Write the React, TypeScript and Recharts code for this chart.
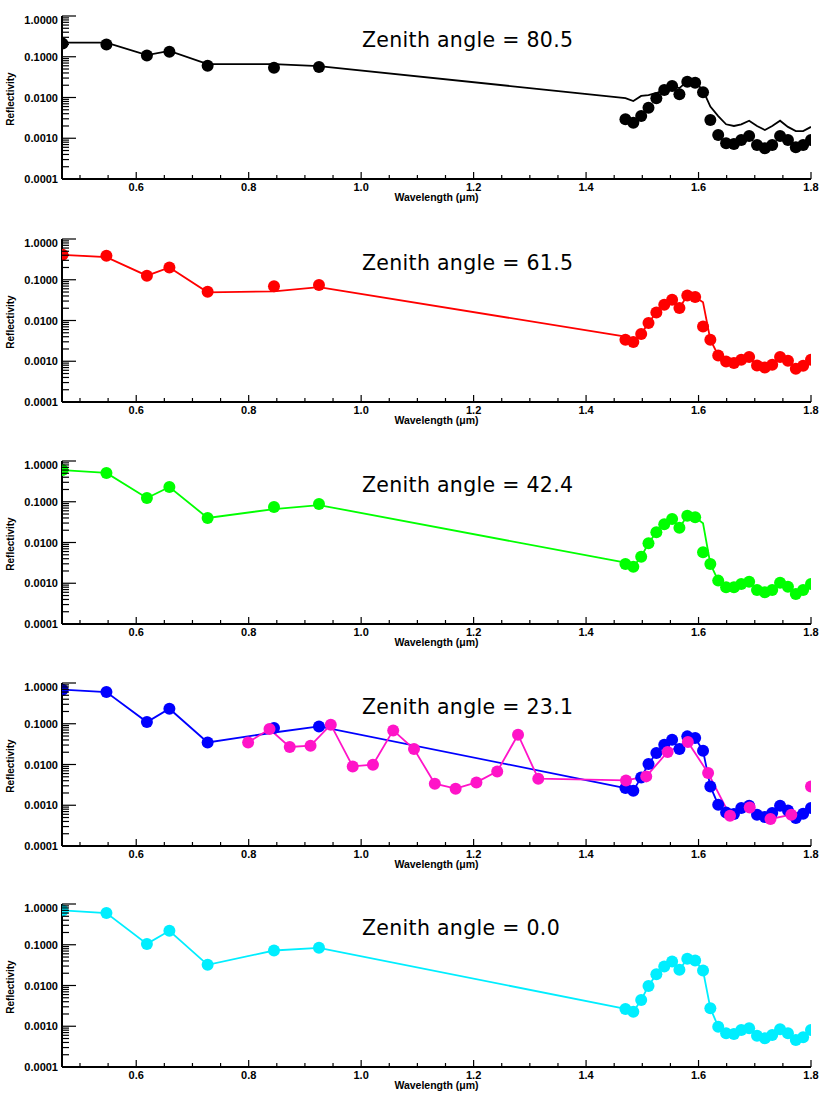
import React from 'react';
import { ComposedChart, Line, XAxis, YAxis } from 'recharts';

// ---------- data ----------
const wavelengths = [
  0.469, 0.547, 0.619, 0.659, 0.727, 0.845, 0.925,
  1.470, 1.484, 1.498, 1.511, 1.525, 1.539, 1.553, 1.566, 1.580, 1.594, 1.608, 1.621, 1.635,
  1.649, 1.663, 1.676, 1.690, 1.704, 1.718, 1.731, 1.745, 1.759, 1.773, 1.786, 1.800,
];

const dots805 = [
  0.21, 0.20, 0.108, 0.133, 0.060, 0.054, 0.056,
  0.00292, 0.00241, 0.00352, 0.00562, 0.00955, 0.0153, 0.0191, 0.0120, 0.0244, 0.0231, 0.0134, 0.00281, 0.00120,
  0.000752, 0.000723, 0.000906, 0.00114, 0.000683, 0.000567, 0.000683, 0.00114, 0.000906, 0.000600, 0.000683, 0.000906,
];
const line805 = [
  0.221, 0.221, 0.110, 0.139, 0.066, 0.066, 0.059,
  0.0097, 0.0082, 0.0109, 0.0115, 0.0129, 0.0153, 0.019, 0.017, 0.025, 0.024, 0.015, 0.0060, 0.0035,
  0.0022, 0.0020, 0.0022, 0.0027, 0.0020, 0.0016, 0.0020, 0.0027, 0.0019, 0.0015, 0.0015, 0.0019,
];

const dots615 = [
  0.41, 0.39, 0.126, 0.201, 0.051, 0.069, 0.074,
  0.00338, 0.00297, 0.00467, 0.00869, 0.0158, 0.0244, 0.0324, 0.0203, 0.0413, 0.0377, 0.00716, 0.00338, 0.00139,
  0.000991, 0.000906, 0.00109, 0.00127, 0.000791, 0.000707, 0.000822, 0.00127, 0.00103, 0.000656, 0.000778, 0.00109,
];
const line615 = [
  0.41, 0.36, 0.126, 0.20, 0.049, 0.052, 0.066,
  0.0040, 0.00297, 0.00467, 0.00869, 0.0158, 0.0244, 0.0324, 0.0203, 0.0413, 0.0377, 0.028, 0.00338, 0.00139,
  0.000991, 0.000906, 0.00109, 0.00127, 0.000791, 0.000707, 0.000822, 0.00127, 0.00103, 0.000656, 0.000778, 0.00109,
];

const dots424 = [
  0.60, 0.51, 0.124, 0.23, 0.040, 0.074, 0.088,
  0.00297, 0.00255, 0.00449, 0.00955, 0.0178, 0.0280, 0.0377, 0.0231, 0.0455, 0.0415, 0.00575, 0.00297, 0.00116,
  0.000796, 0.000796, 0.000959, 0.00109, 0.000683, 0.000600, 0.000683, 0.00103, 0.000822, 0.000545, 0.000683, 0.000959,
];
const line424 = [
  0.60, 0.51, 0.124, 0.23, 0.040, 0.066, 0.083,
  0.0032, 0.00255, 0.00449, 0.00955, 0.0178, 0.0280, 0.0377, 0.0231, 0.0455, 0.0415, 0.0296, 0.00297, 0.00116,
  0.000796, 0.000796, 0.000959, 0.00109, 0.000683, 0.000600, 0.000683, 0.00103, 0.000822, 0.000545, 0.000683, 0.000959,
];

const dots231 = [
  0.685, 0.60, 0.110, 0.234, 0.0348, 0.0787, 0.086,
  0.00265, 0.00228, 0.00482, 0.0103, 0.0191, 0.0306, 0.0406, 0.0240, 0.0490, 0.0447, 0.0218, 0.00290, 0.00103,
  0.000668, 0.000610, 0.000857, 0.000975, 0.000586, 0.000515, 0.000645, 0.000975, 0.000748, 0.000486, 0.000621, 0.000857,
];
const line231 = [
  0.685, 0.60, 0.110, 0.234, 0.0348, 0.061, 0.086,
  0.00265, 0.00228, 0.00482, 0.0103, 0.0191, 0.0306, 0.0406, 0.0240, 0.0490, 0.0447, 0.0218, 0.00290, 0.00103,
  0.000668, 0.000610, 0.000857, 0.000975, 0.000586, 0.000515, 0.000645, 0.000975, 0.000748, 0.000486, 0.000621, 0.000857,
];

const pinkWavelengths = [
  0.799, 0.837, 0.873, 0.910, 0.946, 0.985, 1.021, 1.057, 1.094, 1.131, 1.168, 1.205, 1.242,
  1.279, 1.315, 1.471, 1.507, 1.545, 1.581, 1.617, 1.656, 1.691, 1.728, 1.765, 1.800,
];
const pinkDots = [
  0.0348, 0.0743, 0.0269, 0.0289, 0.0948, 0.00898, 0.00989, 0.0687, 0.0240, 0.00338, 0.00255, 0.00364, 0.00677,
  0.0538, 0.00449, 0.00407, 0.00511, 0.0203, 0.0357, 0.00618, 0.000554, 0.000886, 0.000460, 0.000586, 0.00290,
];
const pinkLine = [
  0.0348, 0.0743, 0.0269, 0.0289, 0.0948, 0.00898, 0.00989, 0.0687, 0.0240, 0.00338, 0.00255, 0.00364, 0.00677,
  0.0538, 0.00449, 0.00407, 0.00511, 0.0203, 0.0357, 0.00618, 0.000554, 0.000886, 0.000460, 0.000586, 0.00078,
];

const dots000 = [
  0.696, 0.60, 0.105, 0.220, 0.0321, 0.0722, 0.0841,
  0.00266, 0.00228, 0.00442, 0.00977, 0.0190, 0.0292, 0.0387, 0.0242, 0.0451, 0.0410, 0.0233, 0.00277, 0.000975,
  0.000671, 0.000645, 0.000809, 0.000891, 0.000586, 0.000505, 0.000609, 0.000841, 0.000671, 0.000459, 0.000535, 0.000809,
];
const line000 = dots000;

const zenithAngles = ['80.5', '61.5', '42.4', '23.1', '0.0'];

const xTicks = [
  0.5, 0.55, 0.6, 0.65, 0.7, 0.75, 0.8, 0.85, 0.9, 0.95, 1.0, 1.05, 1.1, 1.15,
  1.2, 1.25, 1.3, 1.35, 1.4, 1.45, 1.5, 1.55, 1.6, 1.65, 1.7, 1.75, 1.8,
];
const xLabelTicks = [0.6, 0.8, 1.0, 1.2, 1.4, 1.6, 1.8];
const yTicks = [
  0.0001, 0.0002, 0.0003, 0.0004, 0.0005, 0.0006, 0.0007, 0.0008, 0.0009,
  0.001, 0.002, 0.003, 0.004, 0.005, 0.006, 0.007, 0.008, 0.009,
  0.01, 0.02, 0.03, 0.04, 0.05, 0.06, 0.07, 0.08, 0.09,
  0.1, 0.2, 0.3, 0.4, 0.5, 0.6, 0.7, 0.8, 0.9, 1,
];

// ---------- layout / style ----------
const X_DOMAIN: [number, number] = [0.468, 1.8];
const Y_DOMAIN: [number, number] = [0.0001, 1];
const W = 830;
const PLOT_TOP = 16;
const PLOT_H = 163;
const BOTTOM_H = 45;
const LEFT_W = 62;
const RIGHT_M = 19;
const panelTops = [16, 239, 461, 683, 904];
const TICK_FONT = '"Liberation Sans", Arial, sans-serif';
const TITLE_FONT = '"DejaVu Sans", sans-serif';

const build = (ws: number[], dots: number[], line: number[]) =>
  ws.map((w, i) => ({ w, dot: dots[i], line: line[i] }));

const panels = [
  { color: '#000000', data: build(wavelengths, dots805, line805) },
  { color: '#ff0000', data: build(wavelengths, dots615, line615) },
  { color: '#00ff00', data: build(wavelengths, dots424, line424) },
  { color: '#0000ff', data: build(wavelengths, dots231, line231), extra: { color: '#ff14c8', data: build(pinkWavelengths, pinkDots, pinkLine) } },
  { color: '#00eeff', data: build(wavelengths, dots000, line000) },
];

const isMajorX = (v: number) => xLabelTicks.some((t) => Math.abs(t - v) < 1e-6);
const isMajorY = (v: number) => Math.abs(Math.log10(v) - Math.round(Math.log10(v))) < 1e-6;

const BottomTick = (props: any) => {
  const { x, y, payload } = props;
  const major = isMajorX(payload.value);
  return (
    <g>
      <line x1={x} x2={x} y1={y} y2={y - (major ? 7 : 4)} stroke="#000" strokeWidth={1.2} />
      {major && (
        <text x={x} y={y + 12} textAnchor="middle" fontFamily={TICK_FONT} fontWeight="bold" fontSize={11} fill="#000">
          {Number(payload.value).toFixed(1)}
        </text>
      )}
    </g>
  );
};

const TopTick = (props: any) => {
  const { x, y, payload } = props;
  const major = isMajorX(payload.value);
  return <line x1={x} x2={x} y1={y} y2={y + (major ? 7 : 4)} stroke="#000" strokeWidth={1.2} />;
};

const LeftTick = (props: any) => {
  const { x, y, payload } = props;
  const v = Number(payload.value);
  const major = isMajorY(v);
  const dy = v >= 0.99 ? 8 : 4;
  return (
    <g>
      <line x1={x} x2={x + (major ? 14 : 7)} y1={y} y2={y} stroke="#000" strokeWidth={1.2} />
      {major && (
        <text x={x - 4} y={y + dy} textAnchor="end" fontFamily={TICK_FONT} fontWeight="bold" fontSize={11} fill="#000">
          {v.toFixed(4)}
        </text>
      )}
    </g>
  );
};

const RightTick = (props: any) => {
  const { x, y, payload } = props;
  const major = isMajorY(Number(payload.value));
  return <line x1={x} x2={x - (major ? 14 : 7)} y1={y} y2={y} stroke="#000" strokeWidth={1.2} />;
};

const axisLine = { stroke: '#000', strokeWidth: 2 };

function Panel({ panel }: { panel: any }) {
  const seriesList = panel.extra ? [panel, panel.extra] : [panel];
  return (
    <ComposedChart
      width={W}
      height={PLOT_TOP + PLOT_H + BOTTOM_H}
      data={panel.data}
      margin={{ top: PLOT_TOP, right: RIGHT_M, bottom: 0, left: 0 }}
    >
      <XAxis
        dataKey="w"
        type="number"
        domain={X_DOMAIN}
        allowDataOverflow
        ticks={xTicks}
        interval={0}
        height={BOTTOM_H}
        tickSize={0}
        tickMargin={0}
        tickLine={false}
        axisLine={axisLine}
        tick={<BottomTick />}
      />
      <XAxis
        xAxisId="top"
        orientation="top"
        dataKey="w"
        type="number"
        domain={X_DOMAIN}
        allowDataOverflow
        ticks={xTicks}
        interval={0}
        height={0}
        tickSize={0}
        tickMargin={0}
        tickLine={false}
        axisLine={axisLine}
        tick={<TopTick />}
      />
      <YAxis
        type="number"
        scale="log"
        domain={Y_DOMAIN}
        allowDataOverflow
        ticks={yTicks}
        interval={0}
        width={LEFT_W}
        tickSize={0}
        tickMargin={0}
        tickLine={false}
        axisLine={axisLine}
        tick={<LeftTick />}
      />
      <YAxis
        yAxisId="right"
        orientation="right"
        type="number"
        scale="log"
        domain={Y_DOMAIN}
        allowDataOverflow
        ticks={yTicks}
        interval={0}
        width={0}
        tickSize={0}
        tickMargin={0}
        tickLine={false}
        axisLine={axisLine}
        tick={<RightTick />}
      />
      {seriesList.map((s: any, i: number) => [
        <Line
          key={`l${i}`}
          data={s === panel ? undefined : s.data}
          dataKey="line"
          type="linear"
          stroke={s.color}
          strokeWidth={1.8}
          dot={false}
          activeDot={false}
          isAnimationActive={false}
        />,
        <Line
          key={`d${i}`}
          data={s === panel ? undefined : s.data}
          dataKey="dot"
          type="linear"
          stroke="none"
          strokeWidth={0}
          dot={{ r: 6, fill: s.color, stroke: 'none' }}
          activeDot={false}
          isAnimationActive={false}
        />,
      ])}
    </ComposedChart>
  );
}

export default function App() {
  return (
    <div style={{ position: 'absolute', left: 0, top: 0, width: 830, height: 1106, background: '#fff' }}>
      {panels.map((p, i) => (
        <div key={i} style={{ position: 'absolute', left: 0, top: panelTops[i] - PLOT_TOP }}>
          <Panel panel={p} />
        </div>
      ))}
      <svg width={830} height={1106} style={{ position: 'absolute', left: 0, top: 0, pointerEvents: 'none' }}>
        {panelTops.map((t, i) => (
          <g key={i}>
            <text x={362} y={t + 31} fontFamily={TITLE_FONT} fontWeight="normal" fontSize={20.5} fill="#000" letterSpacing={0.3}>
              {`Zenith angle = ${zenithAngles[i]}`}
            </text>
            <text x={436.5} y={t + 185} textAnchor="middle" fontFamily={TICK_FONT} fontWeight="bold" fontSize={10.5} fill="#000">
              Wavelength (μm)
            </text>
            <text
              x={14}
              y={t + 83}
              textAnchor="middle"
              transform={`rotate(-90 14 ${t + 83})`}
              fontFamily={TICK_FONT}
              fontWeight="bold"
              fontSize={10}
              fill="#000"
            >
              Reflectivity
            </text>
          </g>
        ))}
      </svg>
    </div>
  );
}
